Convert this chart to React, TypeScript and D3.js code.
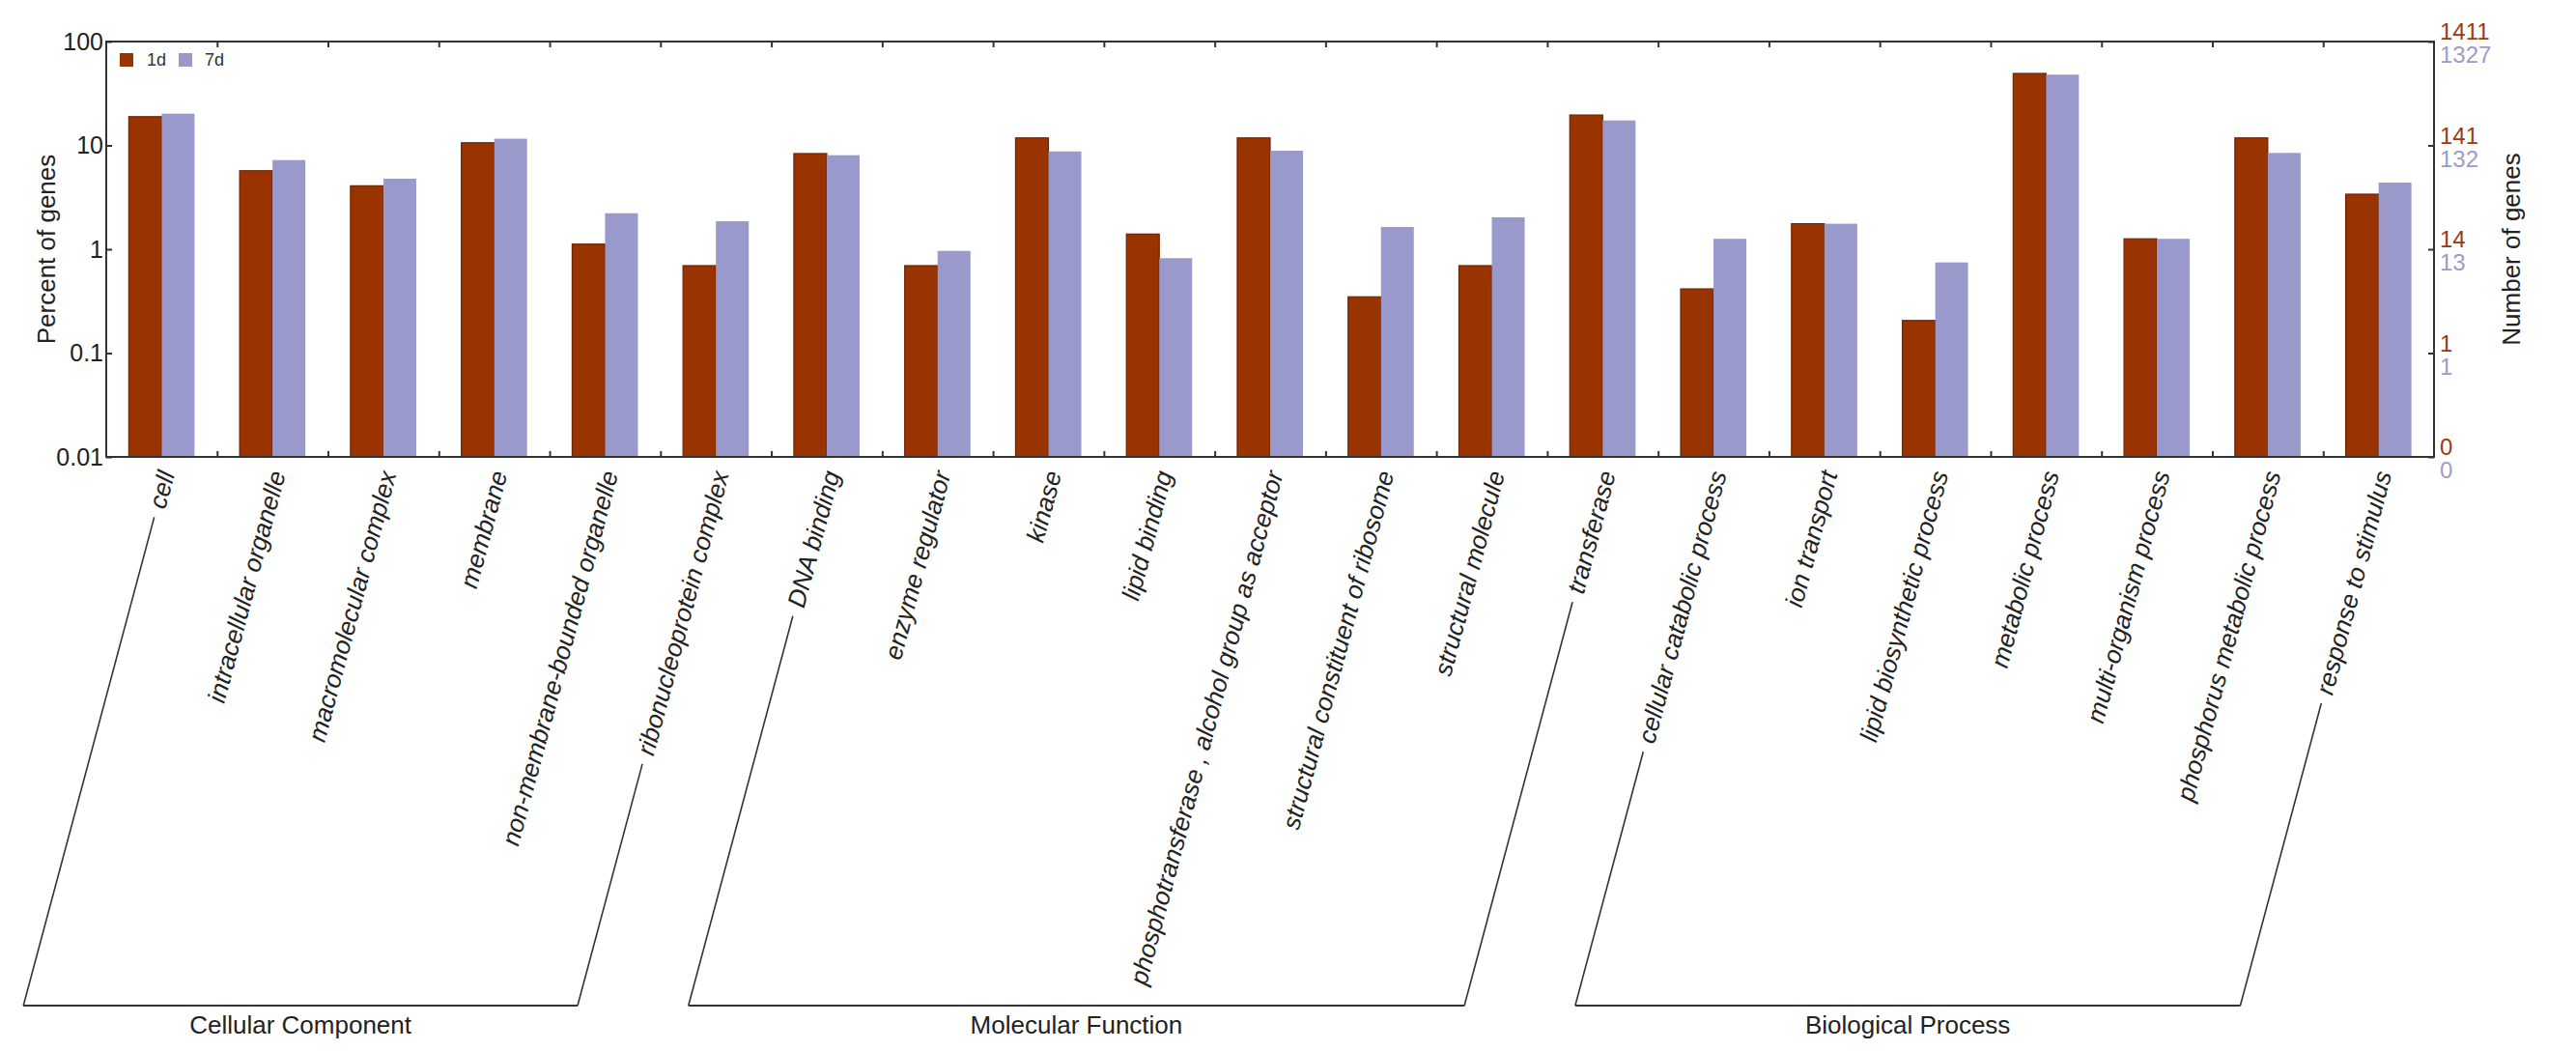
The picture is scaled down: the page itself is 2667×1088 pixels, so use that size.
import React, { useEffect, useRef } from 'react';
import * as d3 from 'd3';

// GO terms along the x axis
const categories = [
  'cell', 'intracellular organelle', 'macromolecular complex', 'membrane',
  'non-membrane-bounded organelle', 'ribonucleoprotein complex',
  'DNA binding', 'enzyme regulator', 'kinase', 'lipid binding',
  'phosphotransferase , alcohol group as acceptor', 'structural constituent of ribosome',
  'structural molecule', 'transferase',
  'cellular catabolic process', 'ion transport', 'lipid biosynthetic process',
  'metabolic process', 'multi-organism process', 'phosphorus metabolic process',
  'response to stimulus',
];

const series = ['1d', '7d'];

// percent of genes
const values1d = [18.9, 5.7, 4.08, 10.6, 1.12, 0.695, 8.34, 0.695, 11.8, 1.4, 11.8, 0.348, 0.695, 19.6, 0.415, 1.76, 0.206, 49.3, 1.26, 11.8, 3.39];
const values7d = [20.2, 7.22, 4.78, 11.6, 2.22, 1.86, 8.04, 0.964, 8.75, 0.82, 8.89, 1.64, 2.03, 17.4, 1.26, 1.76, 0.746, 48.0, 1.26, 8.46, 4.38];

// groups (first / last category index)
const groupNames = ['Cellular Component', 'Molecular Function', 'Biological Process'];
const groupFirst = [0, 6, 14];
const groupLast = [5, 13, 20];

// axis ticks
const percentTicks = [100, 10, 1, 0.1, 0.01];
const percentLabels = ['100', '10', '1', '0.1', '0.01'];
const count1dLabels = ['1411', '141', '14', '1', '0'];
const count7dLabels = ['1327', '132', '13', '1', '0'];

const W = 2667;
const H = 1088;
const colors = ['#993300', '#9999cc'];
const labelColors = ['#9a3a12', '#9c9cc6'];
const FONT = '"Liberation Sans", Arial, Helvetica, sans-serif';

const App: React.FC = () => {
  const ref = useRef<SVGSVGElement>(null);

  useEffect(() => {
    const svg = d3.select(ref.current);
    svg.selectAll('*').remove();

    const left = 110, right = 2520, top = 43, bottom = 473;

    const x0 = d3.scaleBand<string>()
      .domain(categories)
      .range([left, right])
      .paddingInner(0.407)
      .paddingOuter(0.2035);
    const x1 = d3.scaleBand<string>().domain(series).range([0, x0.bandwidth()]);
    const xi = d3.scaleLinear().domain([0, categories.length]).range([left, right]);
    const y = d3.scaleLog().domain([0.01, 100]).range([bottom, top]);

    // bars
    const data = categories.map((c, i) => ({ c, v: [values1d[i], values7d[i]] }));
    const grp = svg.append('g')
      .selectAll('g')
      .data(data)
      .join('g')
      .attr('transform', d => `translate(${x0(d.c)},0)`);
    grp.selectAll('rect')
      .data(d => d.v.map((v, k) => ({ s: series[k], v, k })))
      .join('rect')
      .attr('x', d => x1(d.s)!)
      .attr('y', d => y(d.v))
      .attr('width', x1.bandwidth())
      .attr('height', d => y(0.01) - y(d.v))
      .attr('fill', d => colors[d.k])
      .attr('stroke', d => (d.k === 0 ? '#6e2400' : 'none'))
      .attr('stroke-width', 1.2);

    // frame
    svg.append('rect')
      .attr('x', left).attr('y', top)
      .attr('width', right - left).attr('height', bottom - top)
      .attr('fill', 'none').attr('stroke', '#333').attr('stroke-width', 2);

    // category boundary ticks, top and bottom
    const bounds = d3.range(1, categories.length);
    svg.append('g')
      .attr('transform', `translate(0,${bottom})`)
      .call(d3.axisBottom(xi).tickValues(bounds).tickSize(-6).tickFormat(() => ''))
      .call(g => g.select('.domain').remove());
    svg.append('g')
      .attr('transform', `translate(0,${top})`)
      .call(d3.axisTop(xi).tickValues(bounds).tickSize(-6).tickFormat(() => ''))
      .call(g => g.select('.domain').remove());

    // left axis
    const la = svg.append('g')
      .attr('transform', `translate(${left},0)`)
      .call(d3.axisLeft(y).tickValues(percentTicks).tickSize(-6).tickPadding(3)
        .tickFormat((d, i) => percentLabels[i]));
    la.select('.domain').remove();
    la.selectAll('text').attr('font-size', 25).attr('font-family', FONT).attr('fill', '#222');
    la.selectAll('line').attr('stroke', '#333').attr('stroke-width', 2);

    // right axis
    const ra = svg.append('g')
      .attr('transform', `translate(${right},0)`)
      .call(d3.axisRight(y).tickValues(percentTicks).tickSize(-6).tickFormat(() => ''));
    ra.select('.domain').remove();
    ra.selectAll('line').attr('stroke', '#333').attr('stroke-width', 2);
    percentTicks.forEach((v, i) => {
      svg.append('text')
        .attr('x', right + 6).attr('y', y(v) - 2)
        .attr('font-size', 24).attr('font-family', FONT).attr('fill', labelColors[0])
        .text(count1dLabels[i]);
      svg.append('text')
        .attr('x', right + 6).attr('y', y(v) + 22)
        .attr('font-size', 24).attr('font-family', FONT).attr('fill', labelColors[1])
        .text(count7dLabels[i]);
    });
    svg.selectAll('.tick line').attr('stroke', '#333').attr('stroke-width', 2);

    // axis titles
    svg.append('text')
      .attr('transform', `translate(48,${(top + bottom) / 2}) rotate(-90)`)
      .attr('text-anchor', 'middle').attr('dy', '0.35em')
      .attr('font-size', 26).attr('font-family', FONT).attr('fill', '#222')
      .text('Percent of genes');
    svg.append('text')
      .attr('transform', `translate(2600,${(top + bottom) / 2}) rotate(-90)`)
      .attr('text-anchor', 'middle').attr('dy', '0.35em')
      .attr('font-size', 26).attr('font-family', FONT).attr('fill', '#222')
      .text('Number of genes');

    // legend
    series.forEach((s, k) => {
      svg.append('rect')
        .attr('x', 124 + k * 61).attr('y', 55).attr('width', 14).attr('height', 14)
        .attr('fill', colors[k]);
      svg.append('text')
        .attr('x', 152 + k * 60).attr('y', 68)
        .attr('font-size', 18).attr('font-family', FONT).attr('fill', '#333')
        .text(s);
    });

    // rotated category labels
    const ang = 75 * Math.PI / 180;
    const dx = -Math.cos(ang), dy = Math.sin(ang);
    const baseY = 1041;
    const labelY = 488;
    const ax = (i: number) => x0(categories[i])! + x0.bandwidth() / 2 + 5;
    const lengths: number[] = [];
    categories.forEach((c, i) => {
      const t = svg.append('text')
        .attr('transform', `translate(${ax(i)},${labelY}) rotate(-75)`)
        .attr('text-anchor', 'end').attr('dy', '0.35em')
        .attr('font-size', 26).attr('font-style', 'italic')
        .attr('font-family', FONT).attr('fill', '#222')
        .text(c);
      lengths[i] = (t.node() as SVGTextElement).getComputedTextLength();
    });

    // group brackets
    const footX = (i: number) => ax(i) + dx * ((baseY - labelY) / dy);
    const leg = (i: number) => {
      const s = lengths[i] + 10;
      svg.append('line')
        .attr('x1', ax(i) + dx * s).attr('y1', labelY + dy * s)
        .attr('x2', footX(i)).attr('y2', baseY)
        .attr('stroke', '#333').attr('stroke-width', 1.6);
    };
    groupNames.forEach((name, g) => {
      leg(groupFirst[g]);
      leg(groupLast[g]);
      const xa = footX(groupFirst[g]), xb = footX(groupLast[g]);
      svg.append('line')
        .attr('x1', xa).attr('y1', baseY).attr('x2', xb).attr('y2', baseY)
        .attr('stroke', '#333').attr('stroke-width', 2);
      svg.append('text')
        .attr('x', (xa + xb) / 2).attr('y', 1070)
        .attr('text-anchor', 'middle')
        .attr('font-size', 26).attr('font-family', FONT).attr('fill', '#222')
        .text(name);
    });
  }, []);

  return (
    <svg
      ref={ref}
      width={W}
      height={H}
      style={{ position: 'absolute', left: 0, top: 0, background: '#fff' }}
    />
  );
};

export default App;
